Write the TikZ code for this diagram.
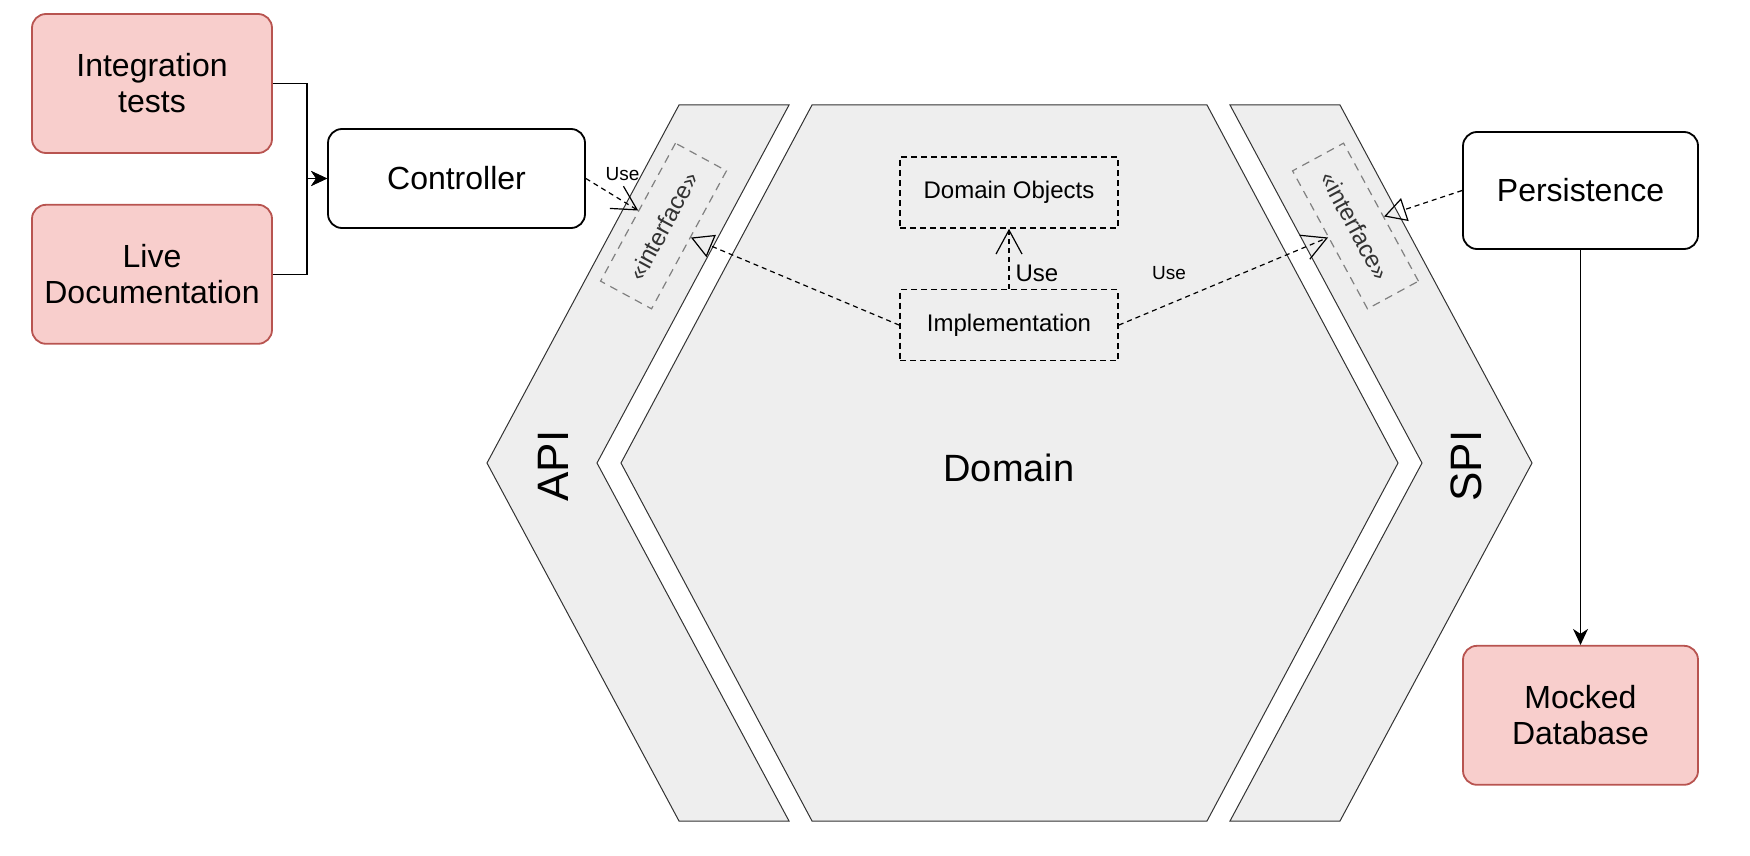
\documentclass[tikz,border=0pt]{standalone}
\usepackage{fontspec}
\setmainfont{Liberation Sans}
\usepackage{xcolor}
\usepackage{tikz}
\usetikzlibrary{positioning, arrows.meta}

\definecolor{testfill}{HTML}{F8CECC}
\definecolor{testline}{HTML}{B85450}
\definecolor{hexfill}{HTML}{EEEEEE}
\definecolor{hexline}{HTML}{333333}
\definecolor{portline}{HTML}{808080}

\begin{document}
\begin{tikzpicture}[
        x=0.5pt, y=-0.5pt,
        font=\fontsize{16}{18}\selectfont,
        test/.style={rectangle, rounded corners=7pt, draw=testline, fill=testfill, line width=0.9pt, minimum width=120pt, minimum height=69.5pt, align=center},
        adapter/.style={rectangle, rounded corners=7pt, draw, fill=white, line width=0.9pt, align=center},
        hexpart/.style={fill=hexfill, draw=hexline, line width=0.5pt},
        class/.style={rectangle, draw, dash pattern=on 3pt off 2pt, line width=0.8pt, minimum width=109pt, minimum height=35.5pt, font=\fontsize{12}{14}\selectfont},
        port/.style={rectangle, draw=portline, dash pattern=on 4pt off 3pt, line width=0.6pt, minimum width=78.5pt, minimum height=29pt, text=hexline, font=\fontsize{12}{14}\selectfont},
        flow/.style={-{Stealth[length=8pt, width=7.5pt, inset=2.5pt]}, line width=0.7pt},
        uses/.style={-{Straight Barb[length=12pt, width=13pt]}, dash pattern=on 2.5pt off 2pt, line width=0.6pt},
        realize/.style={-{Triangle[open, length=11pt, width=12pt]}, dash pattern=on 2.5pt off 2pt, line width=0.6pt},
        usetext/.style={inner sep=0pt, font=\fontsize{9.5}{11}\selectfont}
    ]
        \useasboundingbox (0,0) rectangle (1750,856);

        % Layers
        \draw [hexpart] (679,105) -- (789,105) -- (597,463) -- (789,821) -- (679,821) -- (487,463) -- cycle;
        \draw [hexpart] (812,105) -- (1207,105) -- (1398,463) -- (1207,821) -- (812,821) -- (621,463) -- cycle;
        \draw [hexpart] (1230,105) -- (1340,105) -- (1532,463) -- (1340,821) -- (1230,821) -- (1422,463) -- cycle;
        \node (api) [rotate=90, font=\fontsize{22}{26}\selectfont] at (553,466) {API};
        \node (spi) [rotate=90, font=\fontsize{22}{26}\selectfont] at (1466,466) {SPI};
        \node (domain) [font=\fontsize{19}{22}\selectfont] at (1009,468) {Domain};

        % Nodes
        \node (integ) [test] at (152,83.5) {Integration\\tests};
        \node (live) [test, below=25pt of integ] {Live\\Documentation};
        \node (ctrl) [adapter, minimum width=128.5pt, minimum height=49.5pt] at (456.5,178.5) {Controller};
        \coordinate [left=10pt of ctrl.west] (merge);
        \node (objects) [class] at (1009,192.5) {Domain Objects};
        \node (impl) [class, below=30pt of objects] {Implementation};
        \node (ifapi) [port, rotate=61.5] at (663.5,226) {«interface»};
        \node (ifspi) [port, rotate=-61.5] at (1355.5,226) {«interface»};
        \node (persist) [adapter, minimum width=117.5pt, minimum height=58.5pt] at (1580.5,190.5) {Persistence};
        \node (mock) [test, minimum width=117.5pt, below=197.5pt of persist] {Mocked\\Database};

        % Arrows
        \draw [flow] (integ.east) -| (merge) -- (ctrl.west);
        \draw [flow] (live.east) -| (merge) -- (ctrl.west);
        \draw [uses] (ctrl.east) -- node[usetext, pos=0.7, above=10pt] {Use} (ifapi);
        \draw [uses] (impl) -- node[usetext, pos=0.25, right=3pt, font=\fontsize{12}{14}\selectfont] {Use} (objects);
        \draw [uses] (impl.east) -- node[usetext, pos=0.24, above=12pt] {Use} (ifspi);
        \draw [realize] (impl.west) -- (ifapi);
        \draw [realize] (persist.west) -- (ifspi);
        \draw [flow] (persist) -- (mock);
    \end{tikzpicture}
\end{document}
